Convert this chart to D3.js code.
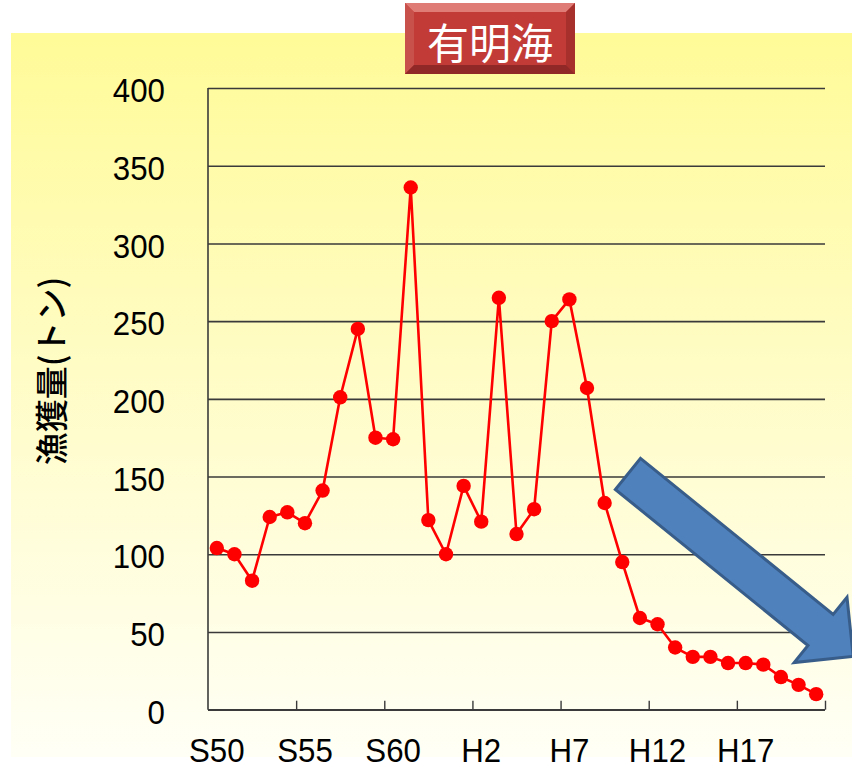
<!DOCTYPE html>
<html>
<head>
<meta charset="utf-8">
<script src="https://cdn.jsdelivr.net/npm/d3@7"></script>
<style>
  html, body { margin: 0; padding: 0; background: #ffffff; }
  svg { display: block; }
</style>
</head>
<body>
<svg id="chart" width="852" height="769"></svg>
<script>
// Fiscal years, Showa 50 through Heisei 21
const years = [
  "S50","S51","S52","S53","S54","S55","S56","S57","S58","S59",
  "S60","S61","S62","S63","H1","H2","H3","H4","H5","H6",
  "H7","H8","H9","H10","H11","H12","H13","H14","H15","H16",
  "H17","H18","H19","H20","H21"
];
// Annual catch in tonnes
const catchTonnes = [
  104, 100, 83, 124, 127, 120, 141, 201, 245, 175,
  174, 336, 122, 100, 144, 121, 265, 113, 129, 250,
  264, 207, 133, 95, 59, 55, 40, 34, 34, 30,
  30, 29, 21, 16, 10
];
const yTickValues = [0, 50, 100, 150, 200, 250, 300, 350, 400];
const xLabelYears = ["S50", "S55", "S60", "H2", "H7", "H12", "H17"];
const titleText = "有明海";
const yTitleText = "漁獲量(トン)";

const svg = d3.select("#chart");
const W = 852, H = 769;
const plot = { left: 208, right: 825, top: 88, bottom: 709.7 };

const defs = svg.append("defs");

// Pale yellow backdrop that fades toward white at the bottom
const bg = defs.append("linearGradient").attr("id", "bgGrad")
  .attr("x1", 0).attr("y1", 0).attr("x2", 0).attr("y2", 1);
bg.append("stop").attr("offset", "0%").attr("stop-color", "#fffb98");
bg.append("stop").attr("offset", "45%").attr("stop-color", "#fffcc4");
bg.append("stop").attr("offset", "100%").attr("stop-color", "#fffff6");

svg.append("rect").attr("width", W).attr("height", H).attr("fill", "#ffffff");
svg.append("rect")
  .attr("x", 11).attr("y", 33).attr("width", W - 11).attr("height", 724)
  .attr("fill", "url(#bgGrad)");

// Scales
const n = years.length;
const xLin = d3.scaleLinear().domain([0, n]).range([plot.left, plot.right]);
const xBand = d3.scaleBand().domain(years).range([plot.left, plot.right]).padding(0);
const y = d3.scaleLinear().domain([0, 400]).range([plot.bottom, plot.top]);

const gridColor = "#3a3a3a";

// Horizontal gridlines
svg.append("g")
  .attr("transform", `translate(${plot.left},0)`)
  .call(d3.axisLeft(y).tickValues(yTickValues).tickSize(-(plot.right - plot.left)).tickFormat(""))
  .call(g => g.select(".domain").remove())
  .call(g => g.selectAll(".tick line").attr("stroke", gridColor).attr("stroke-width", 1.6));

// Y axis labels
const labelFont = "'Liberation Sans', Arial, sans-serif";
svg.append("g")
  .attr("transform", `translate(${plot.left},0)`)
  .call(d3.axisLeft(y).tickValues(yTickValues).tickSize(0).tickFormat(d3.format("d")))
  .call(g => g.select(".domain").remove())
  .call(g => g.selectAll(".tick text")
    .attr("x", null).attr("dy", "0.4em")
    .attr("transform", "translate(-43,0) scale(0.92,1)")
    .attr("text-anchor", "end")
    .attr("fill", "#000")
    .style("font-family", labelFont)
    .style("font-size", "34px"));

// Y axis line
svg.append("line")
  .attr("x1", plot.left).attr("x2", plot.left)
  .attr("y1", y(400)).attr("y2", y(0))
  .attr("stroke", gridColor).attr("stroke-width", 1.6);

// X axis: tick marks on category boundaries every five years
svg.append("g")
  .attr("transform", `translate(0,${plot.bottom})`)
  .call(d3.axisBottom(xLin).tickValues(d3.range(5, n + 1, 5)).tickSize(-9).tickFormat(""))
  .call(g => g.select(".domain")
    .attr("d", `M${plot.left},0H${plot.right}`)
    .attr("stroke", gridColor).attr("stroke-width", 1.6))
  .call(g => g.selectAll(".tick line").attr("stroke", gridColor).attr("stroke-width", 1.4));

// X axis labels at category centres
svg.append("g")
  .attr("transform", `translate(0,${plot.bottom})`)
  .call(d3.axisBottom(xBand).tickValues(xLabelYears).tickSize(0))
  .call(g => g.select(".domain").remove())
  .call(g => g.selectAll(".tick text")
    .attr("y", 52).attr("dy", 0)
    .attr("transform", "scale(0.92,1)")
    .attr("fill", "#000")
    .style("font-family", labelFont)
    .style("font-size", "34px"));

// Catch series
const px = (d, i) => xBand(years[i]) + xBand.bandwidth() / 2;
svg.append("path")
  .datum(catchTonnes)
  .attr("fill", "none")
  .attr("stroke", "#ff0000")
  .attr("stroke-width", 2.6)
  .attr("stroke-linejoin", "round")
  .attr("d", d3.line().x(px).y(d => y(d)));

svg.append("g")
  .selectAll("circle")
  .data(catchTonnes)
  .join("circle")
  .attr("cx", px)
  .attr("cy", d => y(d))
  .attr("r", 7.2)
  .attr("fill", "#ff0000");

// Downward trend arrow
(function drawArrow() {
  const tail = [xLin(23.82), y(151.7)];
  const tip = [xLin(36.6), y(34.3)];
  const dx = tip[0] - tail[0], dy = tip[1] - tail[1];
  const len = Math.hypot(dx, dy);
  const u = [dx / len, dy / len];
  const v = [u[1], -u[0]];
  const bodyHalf = 20, headHalf = 42, headLen = 42;
  const pt = (a, b) => [tail[0] + u[0] * a + v[0] * b, tail[1] + u[1] * a + v[1] * b];
  const pts = [
    pt(0, bodyHalf), pt(len - headLen, bodyHalf), pt(len - headLen, headHalf),
    pt(len, 0),
    pt(len - headLen, -headHalf), pt(len - headLen, -bodyHalf), pt(0, -bodyHalf)
  ];
  svg.append("path")
    .attr("d", d3.line()(pts) + "Z")
    .attr("fill", "#4f81bd")
    .attr("stroke", "#385d8a")
    .attr("stroke-width", 3)
    .attr("stroke-linejoin", "miter");
})();

// Y axis title
svg.append("text")
  .attr("transform", "translate(50,371) rotate(-90)")
  .attr("text-anchor", "middle")
  .attr("dominant-baseline", "central")
  .attr("fill", "#000")
  .style("font-family", "'Noto Sans CJK JP', sans-serif")
  .style("font-weight", "500")
  .style("font-size", "33px")
  .text(yTitleText);

// Title badge
const tb = { x: 405, y: 3, w: 170, h: 71, bevel: 9 };
const redGrad = defs.append("linearGradient").attr("id", "redGrad")
  .attr("x1", 0).attr("y1", 0).attr("x2", 0).attr("y2", 1);
redGrad.append("stop").attr("offset", "0%").attr("stop-color", "#cf4a44");
redGrad.append("stop").attr("offset", "100%").attr("stop-color", "#b8322f");

const badge = svg.append("g");
badge.append("rect")
  .attr("x", tb.x).attr("y", tb.y).attr("width", tb.w).attr("height", tb.h)
  .attr("fill", "url(#redGrad)");
const b = tb.bevel;
const corners = {
  tl: [tb.x, tb.y], tr: [tb.x + tb.w, tb.y],
  br: [tb.x + tb.w, tb.y + tb.h], bl: [tb.x, tb.y + tb.h],
  itl: [tb.x + b, tb.y + b], itr: [tb.x + tb.w - b, tb.y + b],
  ibr: [tb.x + tb.w - b, tb.y + tb.h - b], ibl: [tb.x + b, tb.y + tb.h - b]
};
const facet = (p, c) => badge.append("path").attr("d", d3.line()(p) + "Z").attr("fill", c);
facet([corners.tl, corners.tr, corners.itr, corners.itl], "#e07c76");
facet([corners.tl, corners.itl, corners.ibl, corners.bl], "#c9514b");
facet([corners.tr, corners.br, corners.ibr, corners.itr], "#a8302c");
facet([corners.bl, corners.ibl, corners.ibr, corners.br], "#8f2826");
badge.append("rect")
  .attr("x", tb.x + b).attr("y", tb.y + b).attr("width", tb.w - 2 * b).attr("height", tb.h - 2 * b)
  .attr("fill", "#c23b37");
badge.append("text")
  .attr("x", tb.x + tb.w / 2).attr("y", 40)
  .attr("text-anchor", "middle")
  .attr("dominant-baseline", "central")
  .attr("fill", "#ffffff")
  .style("font-family", "'Noto Sans CJK JP', sans-serif")
  .style("font-size", "42px")
  .text(titleText);
</script>
</body>
</html>
